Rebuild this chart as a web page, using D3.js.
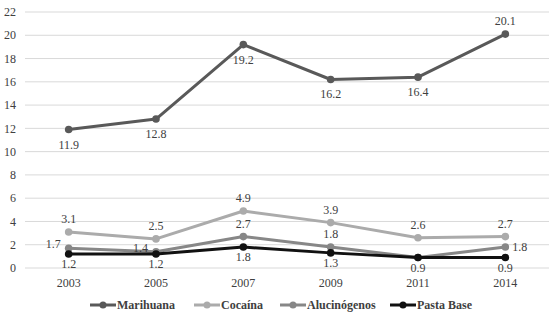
<!DOCTYPE html>
<html>
<head>
<meta charset="utf-8">
<script src="https://cdn.jsdelivr.net/npm/d3@7"></script>
<style>
  body { margin: 0; background: #fff; }
</style>
</head>
<body>
<div id="chart"></div>
<script>
// Data
const years = ["2003", "2005", "2007", "2009", "2011", "2014"];
const marihuana = [11.9, 12.8, 19.2, 16.2, 16.4, 20.1];
const cocaina = [3.1, 2.5, 4.9, 3.9, 2.6, 2.7];
const alucinogenos = [1.7, 1.4, 2.7, 1.8, 0.9, 1.8];
const pastaBase = [1.2, 1.2, 1.8, 1.3, 0.9, 0.9];
const yTicks = [0, 2, 4, 6, 8, 10, 12, 14, 16, 18, 20, 22];

const FONT = "Liberation Serif";

// label placement per series (a = above, b = below, l = left, r = right, n = none)
const series = [
  {name: "Marihuana", values: marihuana, color: "#595959", below: 19, pos: ["b", "b", "b", "b", "b", "a"]},
  {name: "Cocaína", values: cocaina, color: "#ababab", below: 15, pos: ["a", "a", "a", "a", "a", "a"]},
  {name: "Alucinógenos", values: alucinogenos, color: "#878787", below: 15, pos: ["l", "l", "a", "a", "n", "r"]},
  {name: "Pasta Base", values: pastaBase, color: "#111111", below: 14, pos: ["b", "b", "b", "b", "b", "b"]}
];

const W = 555, H = 312;
const margin = {top: 12, right: 6, bottom: 44, left: 25};
const width = W - margin.left - margin.right,
      height = H - margin.top - margin.bottom;

const svg = d3.select("#chart").append("svg")
    .attr("width", W)
    .attr("height", H)
    .style("font-family", FONT);

const g = svg.append("g")
    .attr("transform", `translate(${margin.left}, ${margin.top})`);

const x = d3.scalePoint()
    .domain(years)
    .range([0, width])
    .padding(0.5);

const y = d3.scaleLinear()
    .domain([0, 22])
    .range([height, 0]);

// Gridlines
g.selectAll(".grid")
  .data(yTicks)
  .enter()
  .append("line")
    .attr("x1", 0)
    .attr("x2", width)
    .attr("y1", d => y(d))
    .attr("y2", d => y(d))
    .attr("stroke", "#d9d9d9")
    .attr("stroke-width", 1);

// Y tick labels
g.selectAll(".ylab")
  .data(yTicks)
  .enter()
  .append("text")
    .attr("x", -9)
    .attr("y", d => y(d))
    .attr("dy", "0.35em")
    .attr("text-anchor", "end")
    .style("font-family", FONT)
    .style("font-size", "12px")
    .style("fill", "#404040")
    .text(d => d);

// X tick labels
g.selectAll(".xlab")
  .data(years)
  .enter()
  .append("text")
    .attr("x", d => x(d))
    .attr("y", height + 19)
    .attr("text-anchor", "middle")
    .style("font-family", FONT)
    .style("font-size", "12px")
    .style("fill", "#404040")
    .text(d => d);

const line = d3.line()
    .x((d, i) => x(years[i]))
    .y(d => y(d));

series.forEach(s => {
  g.append("path")
    .datum(s.values)
    .attr("fill", "none")
    .attr("stroke", s.color)
    .attr("stroke-width", 3)
    .attr("stroke-linejoin", "round")
    .attr("d", line);

  g.selectAll(null)
    .data(s.values)
    .enter()
    .append("circle")
      .attr("cx", (d, i) => x(years[i]))
      .attr("cy", d => y(d))
      .attr("r", 3.8)
      .attr("fill", s.color);

  // data labels (index kept with each value so positions stay right)
  const labels = s.values
    .map((v, i) => ({v: v, year: years[i], p: s.pos[i]}))
    .filter(d => d.p !== "n");

  g.selectAll(null)
    .data(labels)
    .enter()
    .append("text")
      .attr("x", d => x(d.year) + (d.p === "l" ? -8 : d.p === "r" ? 7 : 0))
      .attr("y", d => y(d.v) + (d.p === "a" ? -9 : d.p === "b" ? s.below : d.p === "l" ? 0 : 4))
      .attr("text-anchor", d => d.p === "l" ? "end" : d.p === "r" ? "start" : "middle")
      .style("font-family", FONT)
      .style("font-size", "12px")
      .style("fill", "#404040")
      .text(d => d.v.toFixed(1));
});

// Legend
const legendX = [90, 194, 280, 390];
const legend = svg.append("g")
    .attr("transform", `translate(0, ${H - 7})`);

series.forEach((s, i) => {
  const lg = legend.append("g").attr("transform", `translate(${legendX[i]}, 0)`);
  lg.append("line")
    .attr("x1", 0).attr("x2", 26)
    .attr("y1", 0).attr("y2", 0)
    .attr("stroke", s.color)
    .attr("stroke-width", 3);
  lg.append("circle")
    .attr("cx", 13).attr("cy", 0).attr("r", 3.5)
    .attr("fill", s.color);
  lg.append("text")
    .attr("x", 27)
    .attr("y", 0)
    .attr("dy", "0.35em")
    .style("font-family", FONT)
    .style("font-size", "12px")
    .style("font-weight", "bold")
    .style("fill", "#404040")
    .text(s.name);
});
</script>
</body>
</html>
